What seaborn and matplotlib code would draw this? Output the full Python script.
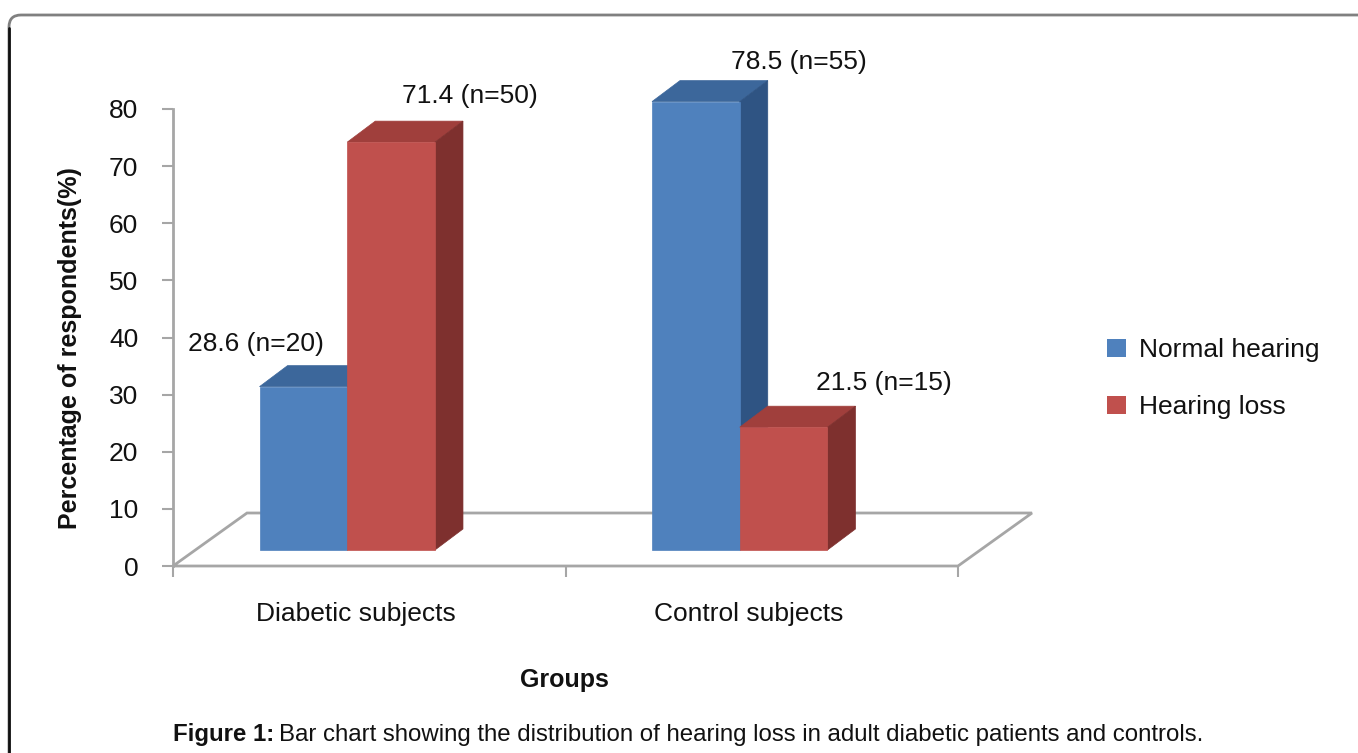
import numpy as np
import pandas as pd
import matplotlib
matplotlib.use("Agg")
import matplotlib.pyplot as plt
import seaborn as sns
from matplotlib.patches import Polygon, FancyBboxPatch, Rectangle
from matplotlib.lines import Line2D
from matplotlib import transforms as mtrans
from matplotlib.colors import to_hex

# ---------------- data ----------------
groups = ["Diabetic subjects", "Control subjects"]
statuses = ["Normal hearing", "Hearing loss"]
pct_normal = [28.6, 78.5]
pct_loss = [71.4, 21.5]
n_normal = [20, 55]
n_loss = [50, 15]
yticks = [0, 10, 20, 30, 40, 50, 60, 70, 80]

df = pd.DataFrame({
    "Groups": groups * 2,
    "Status": [statuses[0]] * len(groups) + [statuses[1]] * len(groups),
    "Percent": pct_normal + pct_loss,
    "n": n_normal + n_loss,
})

# ---------------- style ----------------
sns.set_theme(style="white")
plt.rcParams["font.family"] = ["Liberation Sans", "DejaVu Sans"]

front_cols = {"Normal hearing": "#4F81BD", "Hearing loss": "#C0504D"}
top_cols = {"Normal hearing": "#3C679B", "Hearing loss": "#A03F3C"}
side_cols = {"Normal hearing": "#2F5483", "Hearing loss": "#7E302E"}
axis_gray = "#A6A6A6"
FS = 19

W, H = 1358, 753
fig = plt.figure(figsize=(W / 100, H / 100), dpi=100)
ax = fig.add_axes([173 / W, 1 - 566 / H, (958 - 173) / W, (566 - 109) / H])

sns.barplot(data=df, x="Groups", y="Percent", hue="Status", order=groups,
            hue_order=statuses, palette=front_cols, width=0.447, saturation=1,
            errorbar=None, linewidth=0, ax=ax, legend=True)

ax.set_xlim(-0.5, 1.5)
ax.set_ylim(0, 80)

# pixel size of one data unit
p0 = ax.transData.transform((0, 0))
p1 = ax.transData.transform((1, 1))
ppx, ppy = p1[0] - p0[0], p1[1] - p0[1]

# 3D look: front faces sit slightly inside the floor, with depth faces behind
fx, fy = -22 / ppx, 16 / ppy
dx, dy = 28 / ppx, 21 / ppy
shift = mtrans.Affine2D().translate(fx, fy) + ax.transData

# floor
fdx, fdy = 74 / ppx, 53 / ppy
floor = [(-0.5, 0), (1.5, 0), (1.5 + fdx, fdy), (-0.5 + fdx, fdy)]
ax.add_patch(Polygon(floor, closed=True, fill=False, edgecolor=axis_gray,
                     lw=2, zorder=1, clip_on=False))

hex_to_status = {to_hex(v): k for k, v in front_cols.items()}
bars = sorted([p for p in ax.patches if isinstance(p, Rectangle) and p.get_height() > 0],
              key=lambda p: p.get_x())

labels = []
for gi in range(len(groups)):
    labels.append(f"{pct_normal[gi]} (n={n_normal[gi]})")
    labels.append(f"{pct_loss[gi]} (n={n_loss[gi]})")
label_off = [(-47, 43), (79, 46), (103, 40), (100, 44)]

for i, p in enumerate(bars):
    st = hex_to_status.get(to_hex(p.get_facecolor()), statuses[0])
    x0, w, h = p.get_x(), p.get_width(), p.get_height()
    z = 3 + i
    p.set_transform(shift)
    p.set_zorder(z + 0.5)
    p.set_clip_on(False)
    p.set_edgecolor(front_cols[st])
    p.set_linewidth(0.5)
    top = Polygon([(x0, h), (x0 + w, h), (x0 + w + dx, h + dy), (x0 + dx, h + dy)],
                  closed=True, transform=shift, facecolor=top_cols[st],
                  edgecolor=top_cols[st], lw=0.5, zorder=z, clip_on=False)
    side = Polygon([(x0 + w, 0), (x0 + w + dx, dy), (x0 + w + dx, h + dy), (x0 + w, h)],
                   closed=True, transform=shift, facecolor=side_cols[st],
                   edgecolor=side_cols[st], lw=0.5, zorder=z, clip_on=False)
    ax.add_patch(top)
    ax.add_patch(side)
    ox, oy = label_off[i]
    ax.annotate(labels[i], xy=(x0 + w / 2, h), xycoords=shift, xytext=(ox, oy),
                textcoords="offset pixels", ha="center", va="center",
                fontsize=FS, color="#111111", annotation_clip=False, zorder=20)

# axes styling
for s in ["top", "right"]:
    ax.spines[s].set_visible(False)
for s in ["left", "bottom"]:
    ax.spines[s].set_color(axis_gray)
    ax.spines[s].set_linewidth(2)
ax.spines["bottom"].set_visible(False)

ax.set_yticks(yticks)
ax.tick_params(axis="y", left=True, length=8, width=1.5, color=axis_gray,
               labelsize=FS, pad=17, labelcolor="#111111")
ax.set_xticks([0, 1])
ax.set_xticklabels(groups)
ax.set_xticks([-0.5, 0.5, 1.5], minor=True)
ax.tick_params(axis="x", which="major", bottom=True, length=0, labelsize=FS,
               pad=26, labelcolor="#111111")
ax.tick_params(axis="x", which="minor", bottom=True, length=8, width=1.5,
               color=axis_gray, direction="out")
lab_shift = mtrans.ScaledTranslation(-13 / 100, 0, fig.dpi_scale_trans)
for lbl in ax.get_xticklabels():
    lbl.set_transform(lbl.get_transform() + lab_shift)

ax.set_xlabel("Groups", fontsize=18, fontweight="bold", color="#111111")
ax.xaxis.set_label_coords((564 - 173) / 785, (566 - 668) / 457)
ax.xaxis.label.set_va("top")
ax.set_ylabel("Percentage of respondents(%)", fontsize=18, fontweight="bold",
              color="#111111")
ax.yaxis.set_label_coords(-0.116, (566 - 348) / 457)

sns.move_legend(ax, "center left", bbox_to_anchor=(1.19, 0.41), frameon=False,
                title=None, fontsize=FS, handlelength=0.7, handleheight=0.7,
                labelspacing=1.25, handletextpad=0.5, borderpad=0,
                borderaxespad=0)
for t in ax.get_legend().get_texts():
    t.set_color("#111111")

# frame
frame = FancyBboxPatch((9, -30), 1400, 753 - 15 + 30,
                       boxstyle="round,pad=0,rounding_size=12",
                       transform=mtrans.IdentityTransform(), fill=False,
                       edgecolor="#808080", lw=2)
fig.add_artist(frame)
fig.add_artist(Line2D([9, 9], [0, 753 - 28], transform=mtrans.IdentityTransform(),
                      color="#111111", lw=2))

# caption
cap_y = 1 - 735 / H
CFS = 17.3
t1 = fig.text(173 / W, cap_y, "Figure 1:", fontsize=CFS, fontweight="bold",
              ha="left", va="center", color="#111111")
fig.canvas.draw()
bb = t1.get_window_extent()
fig.text((bb.x1 + 5) / W, cap_y,
         "Bar chart showing the distribution of hearing loss in adult diabetic patients and controls.",
         fontsize=CFS, ha="left", va="center", color="#111111")

fig.savefig("out.png", dpi=100, facecolor="white")
